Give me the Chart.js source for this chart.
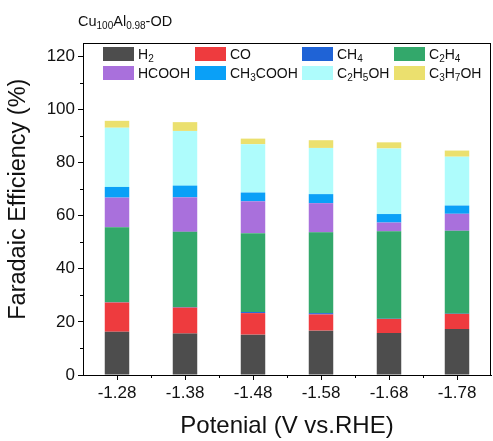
<!DOCTYPE html>
<html>
<head>
<meta charset="utf-8">
<script src="https://cdn.jsdelivr.net/npm/chart.js@4/dist/chart.umd.min.js"></script>
<style>
  html, body { margin: 0; padding: 0; background: #fff; }
  #wrap { position: relative; width: 493px; height: 441px; font-family: "Liberation Sans", Arial, sans-serif; }
  #title { position: absolute; left: 78px; top: 13px; font-size: 14.5px; color: #111; }
  #title sub { font-size: 10px; vertical-align: -3px; line-height: 0; }
  .item { position: absolute; height: 14px; display: flex; align-items: center; }
  .box { width: 31px; height: 14px; margin-right: 4px; }
  .lbl { font-size: 14px; color: #111; white-space: nowrap; }
  .lbl sub { font-size: 10px; vertical-align: -3px; line-height: 0; }
</style>
</head>
<body>
<div id="wrap">
  <canvas id="chart" width="493" height="441"></canvas>
  <div id="title">Cu<sub>100</sub>Al<sub>0.98</sub>-OD</div>
  <div id="legend"></div>
</div>
<script>
// Potential categories (x axis)
const potentials = ['-1.28', '-1.38', '-1.48', '-1.58', '-1.68', '-1.78'];

// Faradaic efficiency (%) of each product, bottom to top of the stack
const h2      = [16.3, 15.6, 15.2, 16.7, 15.8, 17.3];
const co      = [11.0,  9.8,  8.1,  6.1,  5.3,  5.7];
const ch4     = [ 0.1,  0.2,  0.4,  0.5,  0.1,  0.1];
const c2h4    = [28.2, 28.3, 29.7, 30.4, 32.9, 31.2];
const hcooh   = [11.2, 13.0, 12.0, 11.0,  3.3,  6.4];
const ch3cooh = [ 4.0,  4.4,  3.3,  3.4,  3.2,  3.1];
const c2h5oh  = [22.3, 20.6, 18.2, 17.4, 24.7, 18.4];
const c3h7oh  = [ 2.6,  3.3,  2.1,  2.9,  2.3,  2.3];

// y axis tick labels
const yTicks = [0, 20, 40, 60, 80, 100, 120];

const productNames = ['H2', 'CO', 'CH4', 'C2H4', 'HCOOH', 'CH3COOH', 'C2H5OH', 'C3H7OH'];
const productColors = ['#4d4d4d', '#ee3b3e', '#1f63d6', '#33a86b', '#a970dc', '#0aa0f7', '#aefcfc', '#ebe06e'];
const productValues = [h2, co, ch4, c2h4, hcooh, ch3cooh, c2h5oh, c3h7oh];

const FONT = '"Liberation Sans", Arial, sans-serif';

// draws the box around the plot area and the short minor ticks
const framePlugin = {
    id: 'frame',
    afterDraw(chart) {
        const { ctx, chartArea: a, scales } = chart;
        ctx.save();
        ctx.strokeStyle = '#000';
        ctx.lineWidth = 1;
        ctx.strokeRect(a.left + 0.5, a.top + 0.5, a.right - a.left - 1, a.bottom - a.top);

        ctx.beginPath();
        // minor y ticks halfway between labelled ticks
        for (let i = 0; i < yTicks.length - 1; i++) {
            const y = Math.round(scales.y.getPixelForValue((yTicks[i] + yTicks[i + 1]) / 2)) + 0.5;
            ctx.moveTo(a.left - 3, y);
            ctx.lineTo(a.left, y);
        }
        // minor x ticks between categories
        for (let i = 0; i < potentials.length - 1; i++) {
            const x = Math.round((scales.x.getPixelForValue(i) + scales.x.getPixelForValue(i + 1)) / 2) + 0.5;
            ctx.moveTo(x, a.bottom);
            ctx.lineTo(x, a.bottom + 3);
        }
        ctx.stroke();
        ctx.restore();
    }
};

new Chart(document.getElementById('chart'), {
    type: 'bar',
    data: {
        labels: potentials,
        datasets: productNames.map((name, i) => ({
            label: name,
            data: productValues[i],
            backgroundColor: productColors[i],
            borderWidth: 0,
            categoryPercentage: 1,
            barPercentage: 0.36
        }))
    },
    options: {
        responsive: false,
        animation: false,
        layout: { padding: { top: 43, right: 2, left: 0, bottom: 0 } },
        plugins: {
            legend: { display: false },
            tooltip: { enabled: false }
        },
        scales: {
            x: {
                stacked: true,
                afterFit: (s) => { s.height = 66; },
                grid: { offset: false, drawOnChartArea: false, tickLength: 5, color: '#000' },
                border: { color: '#000', width: 1 },
                ticks: { color: '#111', padding: 3, font: { family: FONT, size: 17 } },
                title: {
                    display: true,
                    text: 'Potenial (V vs.RHE)',
                    color: '#111',
                    padding: { top: 0, bottom: 0 },
                    font: { family: FONT, size: 24 }
                }
            },
            y: {
                stacked: true,
                min: 0,
                max: 125,
                afterFit: (s) => { s.width = 83; },
                afterBuildTicks: (s) => { s.ticks = yTicks.map(v => ({ value: v })); },
                grid: { drawOnChartArea: false, tickLength: 5, color: '#000' },
                border: { color: '#000', width: 1 },
                ticks: { color: '#111', padding: 3, font: { family: FONT, size: 17 } },
                title: {
                    display: true,
                    // leading spaces nudge the rotated title up a little, like the original
                    text: '\u00a0\u00a0\u00a0Faradaic Efficiency (%)',
                    color: '#111',
                    padding: { top: 4, bottom: 0 },
                    font: { family: FONT, size: 23.5 }
                }
            }
        }
    },
    plugins: [framePlugin]
});

// legend with real subscripts, 4 columns x 2 rows inside the plot
const legendCols = [103, 195, 302, 394];
const legendRows = [47, 66];
const legend = document.getElementById('legend');
productNames.forEach((name, i) => {
    const item = document.createElement('div');
    item.className = 'item';
    item.style.left = legendCols[i % 4] + 'px';
    item.style.top = legendRows[Math.floor(i / 4)] + 'px';
    item.innerHTML = `<div class="box" style="background:${productColors[i]}"></div>` +
        `<span class="lbl">${name.replace(/(\d+)/g, '<sub>$1</sub>')}</span>`;
    legend.appendChild(item);
});
</script>
</body>
</html>
